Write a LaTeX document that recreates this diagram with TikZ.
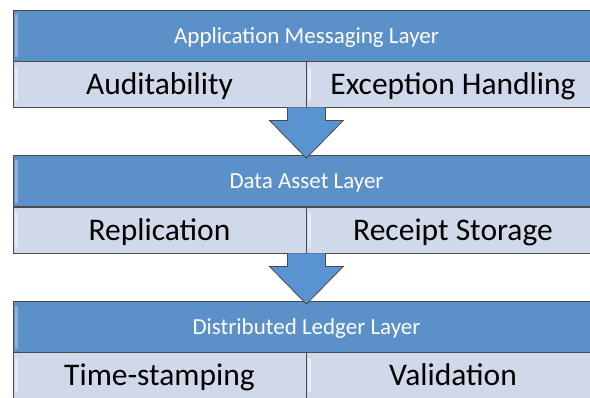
\documentclass[tikz,border=0pt]{standalone}
\usepackage{fontspec}
\setmainfont{Carlito}
\usetikzlibrary{calc}
\definecolor{layerblue}{HTML}{5B90C8}
\definecolor{celltint}{HTML}{D0D9E9}
\definecolor{edgegray}{HTML}{4A4A4A}
\definecolor{arrowblue}{HTML}{5A93D2}
\begin{document}
\begin{tikzpicture}
		[	x=1pt,y=-1pt,
		header/.style={rectangle,draw=edgegray,line width=.8pt,fill=layerblue,text=white,
			minimum width=587pt,minimum height=51pt,inner sep=0pt,text depth=0pt,
			font=\fontsize{23}{26}\selectfont,
			path picture={\fill[white,opacity=.3] ([xshift=2pt,yshift=-4pt]path picture bounding box.north west) rectangle ([xshift=4.5pt,yshift=4pt]path picture bounding box.south west);}},
		cell/.style={rectangle,draw=edgegray,line width=.8pt,fill=celltint,text=black,
			minimum height=46pt,inner sep=0pt,text depth=0pt,
			font=\fontsize{31.5}{34}\selectfont,
			path picture={\fill[white,opacity=.45] ([xshift=2pt,yshift=-6pt]path picture bounding box.north west) rectangle ([xshift=5pt,yshift=6pt]path picture bounding box.south west);}},
		flow/.style={draw=edgegray,line width=.8pt,fill=arrowblue,line join=miter}
		]
		\useasboundingbox (0,0) rectangle (590,397);

		% application messaging layer
		\node[header] (app) at (306.5,35.5){Application Messaging Layer};
		\node[cell,minimum width=293pt] (audit) at (159.5,84){Auditability};
		\node[cell,minimum width=294pt] (except) at (453,84){Exception Handling};

		% data asset layer
		\node[header] (data) at (306.5,181){Data Asset Layer};
		\node[cell,minimum width=293pt] (repl) at (159.5,230){Replication};
		\node[cell,minimum width=294pt] (receipt) at (453,230){Receipt Storage};

		% distributed ledger layer
		\node[header] (ledger) at (306.5,327){Distributed Ledger Layer};
		\node[cell,minimum width=293pt] (stamp) at (159.5,375){Time-stamping};
		\node[cell,minimum width=294pt] (valid) at (453,375){Validation};

		\draw[flow] ($(audit.south east)+(-19,0)$) -- ($(audit.south east)+(-19,13)$) -- ($(audit.south east)+(-37,13)$)
			-- ($(audit.south east |- data.north)+(0,3)$) -- ($(audit.south east)+(37,13)$) -- ($(audit.south east)+(19,13)$) -- ($(audit.south east)+(19,0)$);
		\draw[flow] ($(repl.south east)+(-19,0)$) -- ($(repl.south east)+(-19,13)$) -- ($(repl.south east)+(-37,13)$)
			-- ($(repl.south east |- ledger.north)+(0,3)$) -- ($(repl.south east)+(37,13)$) -- ($(repl.south east)+(19,13)$) -- ($(repl.south east)+(19,0)$);
	\end{tikzpicture}
\end{document}
